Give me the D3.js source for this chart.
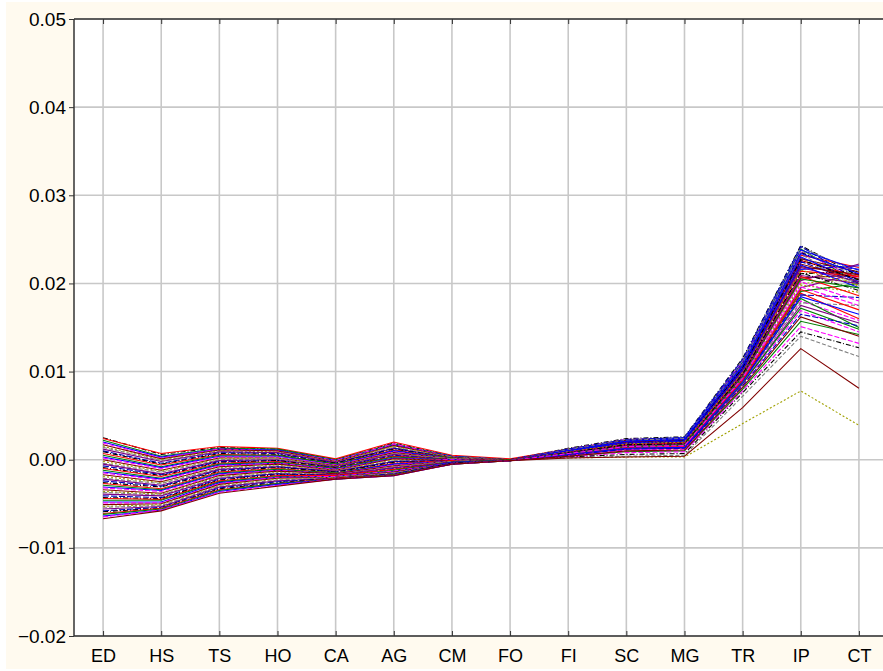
<!DOCTYPE html>
<html>
<head>
<meta charset="utf-8">
<script src="https://cdn.jsdelivr.net/npm/d3@7"></script>
<style>
  body { margin: 0; background: #ffffff; }
  text { font-family: "Liberation Sans", Arial, sans-serif; }
</style>
</head>
<body>
<div class="chart"></div>
<script>
// categories along the x axis
var categories = ["ED","HS","TS","HO","CA","AG","CM","FO","FI","SC","MG","TR","IP","CT"];
var yTicks = [-0.02, -0.01, 0.00, 0.01, 0.02, 0.03, 0.04, 0.05];

// one row per case, values x 1e-4, same order as categories
var series = [
  [ 25,  6, 14, 12,   0,  19,  4,  0, 13, 24, 26, 115, 243, 208],
  [ 24,  7, 15, 13,   1,  20,  5,  1, 12, 22, 23, 110, 232, 218],
  [ 22,  4, 13, 12,   0,  18,  4,  0, 12, 22, 24, 111, 239, 200],
  [ 20,  3, 12, 11,  -1,  17,  4,  0,  8, 17, 19,  98, 216, 220],
  [ 19,  2, 12, 10,  -1,  18,  3,  0, 12, 23, 24, 112, 236, 205],
  [ 17,  1, 11, 10,  -2,  16,  3,  0,  8, 16, 17,  95, 206, 210],
  [ 15,  0, 10,  9,  -2,  15,  3,  0, 10, 20, 21, 105, 229, 196],
  [ 14, -1,  9,  8,  -3,  14,  3,  0, 12, 23, 25, 113, 241, 212],
  [ 12, -2,  9,  8,  -3,  13,  2,  0,  8, 15, 17,  92, 195, 212],
  [ 10, -4,  8,  7,  -4,  13,  2,  0, 11, 20, 22, 106, 224, 216],
  [  9, -5,  7,  6,  -4,  12,  2,  0, 11, 21, 23, 108, 235, 210],
  [  7, -6,  6,  5,  -5,  11,  2,  0,  6, 13, 15,  89, 189, 160],
  [  5, -8,  5,  5,  -5,  10,  2,  0,  4,  9, 10,  80, 157, 142],
  [  3, -9,  4,  4,  -6,  10,  1,  0, 11, 22, 25, 110, 238, 215],
  [  2,-10,  3,  3,  -6,   9,  1,  0,  5, 12, 14,  87, 180, 158],
  [  0,-12,  2,  2,  -7,   8,  1,  0, 11, 22, 23, 108, 228, 213],
  [ -2,-13,  1,  2,  -7,   7,  1,  0,  2,  3,  3,  41,  78,  39],
  [ -4,-14,  0,  1,  -8,   7,  1,  0, 10, 20, 22, 107, 233, 198],
  [ -5,-16, -1,  0,  -8,   6,  0,  0,  8, 16, 18,  95, 203, 222],
  [ -7,-17, -2, -1,  -9,   5,  0,  0, 12, 23, 25, 114, 242, 203],
  [ -9,-18, -3, -1,  -9,   4,  0,  0,  9, 18, 20,  98, 211, 214],
  [-10,-19, -4, -2, -10,   4,  0,  0,  9, 19, 20, 103, 226, 207],
  [-12,-21, -5, -3, -10,   3,  0,  0,  6, 14, 15,  89, 183, 150],
  [-14,-22, -6, -4, -11,   2,  0,  0, 11, 21, 24, 106, 230, 202],
  [-15,-23, -7, -4, -11,   1,  0,  0,  3,  8,  9,  78, 151, 132],
  [-17,-25, -8, -5, -12,   1, -1,  0, 10, 20, 22, 103, 219, 210],
  [-19,-26, -9, -6, -12,   0, -1,  0,  7, 15, 16,  92, 198, 190],
  [-21,-27,-10, -7, -13,  -1, -1,  0, 11, 22, 24, 109, 237, 207],
  [-22,-29,-11, -8, -13,  -2, -1,  0,  5, 12, 13,  86, 175, 155],
  [-24,-30,-12, -8, -14,  -2, -1,  0, 10, 21, 22, 104, 225, 200],
  [-26,-31,-13, -9, -14,  -3, -1,  0,  3,  6,  7,  76, 145, 127],
  [-27,-33,-14,-10, -15,  -4, -1,  0, 10, 19, 21, 101, 214, 208],
  [-29,-34,-15,-11, -15,  -5, -2,  0,  7, 15, 16,  91, 191, 200],
  [-31,-35,-16,-12, -16,  -5, -2,  0, 10, 21, 23, 107, 234, 211],
  [-32,-36,-17,-12, -16,  -6, -2,  0,  5, 11, 12,  85, 169, 145],
  [-34,-38,-18,-13, -16,  -7, -2,  0,  9, 18, 20, 101, 222, 205],
  [-36,-39,-19,-14, -17,  -8, -2,  0,  8, 16, 17,  94, 200, 205],
  [-37,-40,-20,-15, -17,  -8, -2,  0,  2,  4,  5,  72, 140, 117],
  [-39,-41,-21,-16, -17,  -9, -3,  0,  9, 18, 19, 100, 218, 202],
  [-41,-43,-22,-16, -18, -10, -3,  0,  7, 14, 16,  90, 187, 184],
  [-43,-44,-23,-17, -18, -11, -3,  0,  9, 19, 21, 104, 227, 204],
  [-44,-45,-24,-18, -18, -11, -3,  0,  9, 17, 19,  97, 208, 186],
  [-46,-46,-25,-19, -19, -12, -3,  0,  6, 13, 14,  87, 172, 148],
  [-48,-48,-26,-20, -19, -13, -3, -1, 10, 19, 21, 102, 221, 195],
  [-49,-49,-27,-20, -19, -13, -4, -1,  7, 14, 16,  91, 196, 175],
  [-51,-50,-28,-21, -20, -14, -4, -1,  2,  3,  4,  59, 126,  81],
  [-53,-51,-29,-22, -20, -15, -4, -1,  9, 18, 20,  99, 215, 198],
  [-54,-52,-30,-23, -20, -15, -4, -1,  6, 13, 15,  88, 178, 175],
  [-56,-53,-31,-24, -21, -16, -4, -1,  8, 16, 18,  96, 209, 200],
  [-58,-54,-32,-25, -21, -16, -4, -1,  5, 12, 13,  84, 165, 152],
  [-59,-55,-33,-26, -21, -17, -4, -1,  8, 17, 18,  97, 212, 192],
  [-61,-55,-34,-27, -21, -17, -5, -1,  6, 14, 15,  90, 193, 170],
  [-62,-56,-35,-27, -22, -17, -5, -1,  7, 15, 17,  94, 205, 195],
  [-64,-57,-36,-28, -22, -18, -5, -1,  6, 13, 14,  88, 185, 165],
  [-65,-57,-37,-29, -22, -18, -5, -1,  7, 15, 16,  93, 202, 180],
  [-67,-58,-38,-30, -22, -18, -5, -1,  4, 10, 11,  82, 162, 140]
];

var palette = ["#000000","#ff0000","#008000","#0000ff","#ff00ff","#800000","#a0a000","#808080","#800080","#0000c0"];
var dashes  = ["5,2,1,2", null, null, null, "5,2", null, "2,2", "4,2", null, "6,2"];

var W = 883, H = 671;
var margin = {top: 19, left: 74, bottom: 35};
var plotW = 814, plotH = 617;   // plot runs off the right edge like the original

var svg = d3.select(".chart").append("svg")
    .attr("width", W).attr("height", H);

svg.append("rect")
    .attr("x", 6).attr("y", 2)
    .attr("width", W - 6).attr("height", 667)
    .style("fill", "#fffaef");

var g = svg.append("g").attr("transform", "translate(" + margin.left + "," + margin.top + ")");

var x = d3.scalePoint().domain(categories).range([0, plotW]).padding(0.5);
var y = d3.scaleLinear().domain([-0.02, 0.05]).range([plotH, 0]);

g.append("rect")
    .attr("width", plotW).attr("height", plotH)
    .style("fill", "#ffffff");

// grid
g.selectAll(".vgrid").data(categories).enter().append("line")
    .attr("x1", function(d) { return x(d) }).attr("x2", function(d) { return x(d) })
    .attr("y1", 0).attr("y2", plotH)
    .style("stroke", "#c8c8c8").style("stroke-width", 1.6);

g.selectAll(".hgrid").data(yTicks).enter().append("line")
    .attr("x1", 0).attr("x2", plotW)
    .attr("y1", function(d) { return y(d) }).attr("y2", function(d) { return y(d) })
    .style("stroke", "#c8c8c8").style("stroke-width", 1.6);

// lines
var line = d3.line()
    .x(function(d, i) { return x(categories[i]) })
    .y(function(d) { return y(d * 1e-4) });

g.selectAll(".case").data(series).enter().append("path")
    .attr("d", line)
    .style("fill", "none")
    .style("stroke", function(d, i) { return palette[i % palette.length] })
    .style("stroke-dasharray", function(d, i) { return dashes[i % dashes.length] })
    .style("stroke-width", 1.1);

// frame
g.append("line").attr("x1", 0).attr("x2", plotW).attr("y1", 0).attr("y2", 0)
    .style("stroke", "#333").style("stroke-width", 1.5);
g.append("line").attr("x1", 0).attr("x2", plotW).attr("y1", plotH).attr("y2", plotH)
    .style("stroke", "#333").style("stroke-width", 1.5);
g.append("line").attr("x1", 0).attr("x2", 0).attr("y1", 0).attr("y2", plotH)
    .style("stroke", "#333").style("stroke-width", 1.5);

// axes
var yAxis = d3.axisLeft(y).tickValues(yTicks).tickFormat(d3.format(".2f")).tickSize(5).tickPadding(3);
var ya = g.append("g").call(yAxis);
ya.select(".domain").remove();
ya.selectAll("text").style("font-size", "19px").style("fill", "#000");
ya.selectAll("line").style("stroke", "#333");

var xAxis = d3.axisBottom(x).tickSize(-5).tickPadding(13);
var xa = g.append("g").attr("transform", "translate(0," + plotH + ")").call(xAxis);
xa.select(".domain").remove();
xa.selectAll("text").style("font-size", "18px").style("fill", "#000");
xa.selectAll("line").style("stroke", "#333");

var xTop = d3.axisTop(x).tickSize(-5).tickFormat("");
var xt = g.append("g").call(xTop);
xt.select(".domain").remove();
xt.selectAll("line").style("stroke", "#333");
</script>
</body>
</html>
